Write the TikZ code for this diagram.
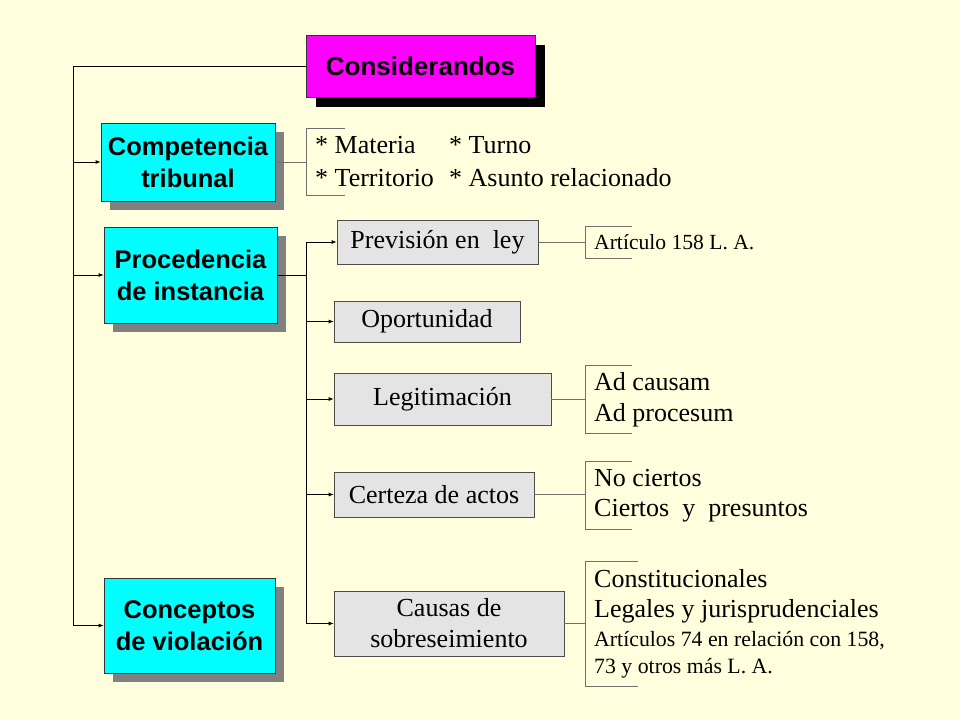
\documentclass[tikz,border=0pt]{standalone}
\usepackage{fontspec}
\setmainfont{Liberation Serif}
\newfontfamily\arialb{Liberation Sans}
\usetikzlibrary{arrows.meta,shadows}
\definecolor{bgyellow}{RGB}{255,255,222}
\definecolor{graybox}{RGB}{228,228,228}
\definecolor{grayline}{RGB}{110,110,110}
\definecolor{boxcyan}{RGB}{0,255,255}
\definecolor{boxmagenta}{RGB}{255,0,255}
\definecolor{shadowgray}{RGB}{128,128,128}
\tikzset{
  mainbox/.style={draw=black!80, line width=0.8pt, fill=boxcyan, font=\arialb\bfseries\fontsize{25.5}{32}\selectfont, align=center, inner sep=0pt,
    drop shadow={shadow xshift=9pt, shadow yshift=-9pt, fill=shadowgray, opacity=1}},
  topbox/.style={draw=black!80, line width=0.8pt, fill=boxmagenta, font=\arialb\bfseries\fontsize{26}{32}\selectfont, align=center, inner sep=0pt,
    drop shadow={shadow xshift=10pt, shadow yshift=-10pt, fill=black, opacity=1}},
  subbox/.style={draw=black!70, line width=0.7pt, fill=graybox, font=\fontsize{26}{31}\selectfont, align=center, inner sep=0pt},
  itemtext/.style={anchor=west, inner sep=0pt, font=\fontsize{26}{31}\selectfont},
  smalltext/.style={anchor=west, inner sep=0pt, font=\fontsize{21.6}{26}\selectfont},
  tree/.style={draw=black, line width=0.8pt},
  arr/.style={tree, -{Latex[length=5pt,width=4pt]}},
  brk/.style={draw=grayline, line width=0.8pt},
}
\begin{document}
\begin{tikzpicture}[x=1pt,y=-1pt]
\fill[bgyellow] (0,0) rectangle (960,720);
\useasboundingbox (0,0) rectangle (960,720);

% main boxes
\node[topbox, minimum width=229pt, minimum height=62pt] (cons) at (420.5,66) {Considerandos};
\node[mainbox, minimum width=174pt, minimum height=78pt] (comp) at (188,162) {Competencia\\tribunal};
\node[mainbox, minimum width=173pt, minimum height=96pt] (proc) at (190.5,275) {Procedencia\\de instancia};
\node[mainbox, minimum width=171pt, minimum height=95pt] (conc) at (189.5,625.5) {Conceptos\\de violación};

% sub boxes
\node[subbox, minimum width=201pt, minimum height=44pt] (prev) at (437.5,242) {Previsión en \ ley};
\node[subbox, minimum width=186pt, minimum height=41pt] (opor) at (427,321.5) {Oportunidad};
\node[subbox, minimum width=217pt, minimum height=52pt] (legi) at (442.5,399) {Legitimación};
\node[subbox, minimum width=200pt, minimum height=45pt] (cert) at (434,494.5) {Certeza de actos};
\node[subbox, minimum width=230pt, minimum height=65pt] (caus) at (449,623.5) {Causas de\\sobreseimiento};

% left tree
\coordinate (lt) at (73,66);
\coordinate (lb) at (73,625.5);
\draw[tree] (cons.west) -- (lt) -- (lb);
\draw[arr] (73,162) -- (comp.west);
\draw[arr] (73,275) -- (proc.west);
\draw[arr] (lb) -- (conc.west);

% procedencia tree
\coordinate (pj) at (306,275);
\draw[tree] (proc.east) -- (pj);
\draw[tree] (306,242) -- (306,623.5);
\draw[arr] (306,242) -- (prev.west);
\draw[arr] (306,321.5) -- (opor.west);
\draw[arr] (306,399) -- (legi.west);
\draw[arr] (306,494.5) -- (cert.west);
\draw[arr] (306,623.5) -- (caus.west);

% bracket competencia
\draw[brk] (comp.east) -- (306,162);
\draw[brk] (345,128) -- (306,128) -- (306,195) -- (345,195);
\node[itemtext] (m1) at (315,145) {* Materia};
\node[itemtext] (m2) at (449,145) {* Turno};
\node[itemtext] (m3) at (315,178) {* Territorio};
\node[itemtext] (m4) at (449,178) {* Asunto relacionado};

% bracket prevision
\draw[brk] (prev.east) -- (585,242);
\draw[brk] (632,226) -- (585,226) -- (585,258) -- (632,258);
\node[smalltext] (a1) at (594,242) {Artículo 158 L. A.};

% bracket legitimacion
\draw[brk] (legi.east) -- (585,399);
\draw[brk] (632,365) -- (585,365) -- (585,433) -- (632,433);
\node[itemtext] (l1) at (594,382) {Ad causam};
\node[itemtext] (l2) at (594,415) {Ad procesum};

% bracket certeza
\draw[brk] (cert.east) -- (585,494.5);
\draw[brk] (632,461) -- (585,461) -- (585,529) -- (632,529);
\node[itemtext] (c1) at (594,478) {No ciertos};
\node[itemtext] (c2) at (594,511) {Ciertos \ y \ presuntos};

% bracket causas
\draw[brk] (caus.east) -- (585,623.5);
\draw[brk] (638,561) -- (585,561) -- (585,686) -- (638,686);
\node[itemtext] (s1) at (594,579) {Constitucionales};
\node[itemtext] (s2) at (594,611) {Legales y jurisprudenciales};
\node[smalltext, font=\fontsize{21.8}{26}\selectfont] (s3) at (594,641) {Artículos 74 en relación con 158,};
\node[smalltext, font=\fontsize{21.8}{26}\selectfont] (s4) at (594,668) {73 y otros más L. A.};
\end{tikzpicture}
\end{document}
